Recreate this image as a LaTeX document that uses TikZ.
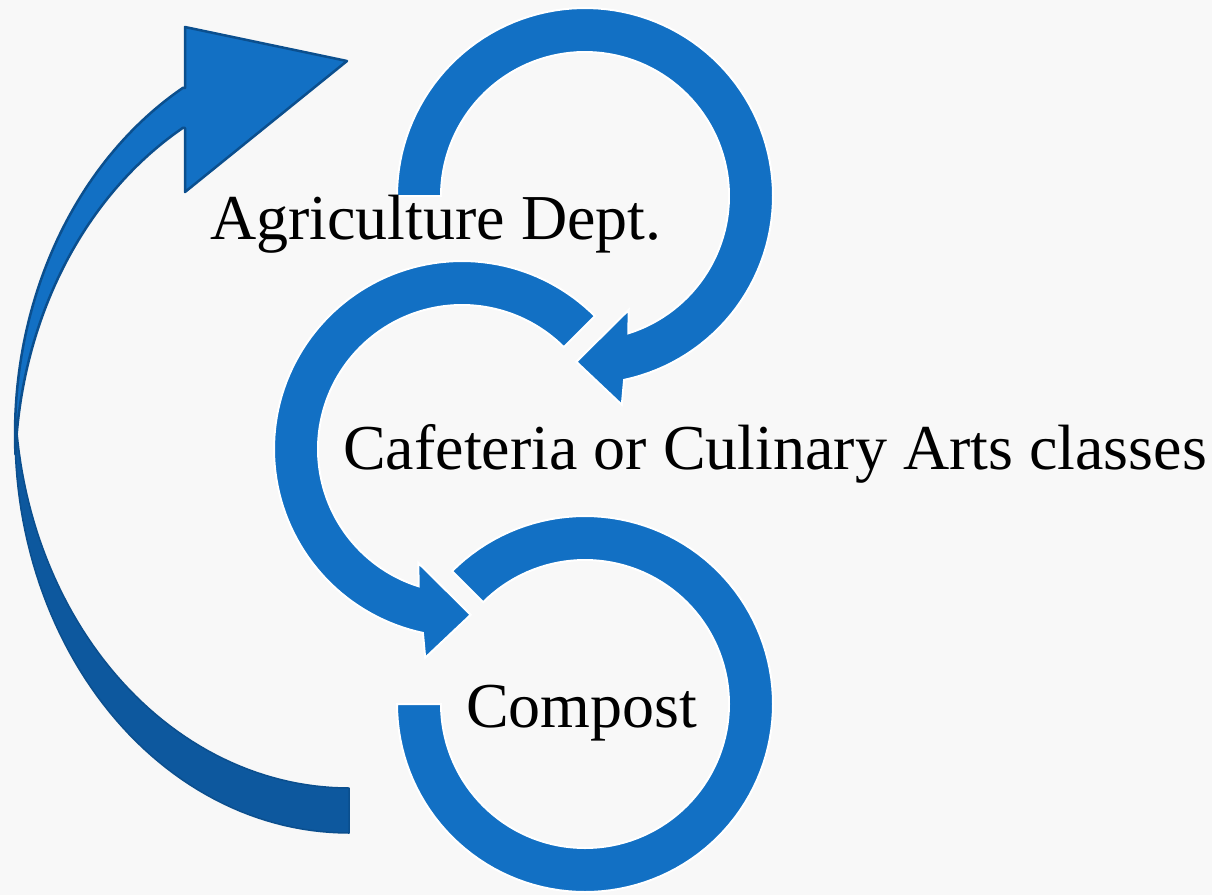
\documentclass[tikz,border=0pt]{standalone}
\usepackage{fontspec}
\setmainfont{Liberation Serif}
\definecolor{cblue}{HTML}{1270C4}
\definecolor{cdark}{HTML}{0D589E}
\definecolor{cline}{HTML}{0B4F8E}
\definecolor{bgc}{HTML}{F8F8F8}
\begin{document}
\begin{tikzpicture}[x=1pt,y=-1pt,
  ring/.style={fill=cblue, draw=white, line width=2pt, line join=miter},
  txt/.style={anchor=base west, font=\fontsize{64}{70}\selectfont, inner sep=0pt, text=black}]
\fill[bgc] (0,0) rectangle (1212,895);
\useasboundingbox (0,0) rectangle (1212,895);

% big left arrow: back part
\filldraw[fill=cdark, draw=cline, line width=1.5pt, line join=round]
 (349,788) -- (349,833)
 -- plot[domain=90:183.2,samples=60] ({349+334*cos(\x)},{434+399*sin(\x)})
 -- plot[domain=176.8:90,samples=60] ({349+334*cos(\x)},{389+399*sin(\x)}) -- cycle;
% big left arrow: front part with head
\filldraw[fill=cblue, draw=cline, line width=2.5pt, line join=round]
 plot[domain=177.1:240.2,samples=60] ({349+334*cos(\x)},{434+399*sin(\x)})
 -- (185,88) -- (185,27) -- (347,61) -- (185,192) -- (185,128)
 -- plot[domain=240.2:182.9,samples=60] ({349+334*cos(\x)},{474+399*sin(\x)}) -- cycle;

% middle ring
\begin{scope}[shift={(462,449)}]
\filldraw[ring] plot[domain=-45:-258,samples=100] (\x:188)
 -- (-260:212) -- (-273:166) -- (-249:122) -- (-252.5:144)
 -- plot[domain=-252.5:-45,samples=100] (\x:144) -- cycle;
\end{scope}
% bottom ring
\begin{scope}[shift={(585,704)}]
\filldraw[ring] plot[domain=-135:180,samples=120] (\x:188)
 -- plot[domain=180:-135,samples=120] (\x:144) -- cycle;
\end{scope}
% top ring
\begin{scope}[shift={(585,196)}]
\filldraw[ring] plot[domain=-180:78,samples=100] (\x:188)
 -- (80:212) -- (93:166) -- (69:122) -- (72.5:144)
 -- plot[domain=72.5:-180,samples=100] (\x:144) -- cycle;
\end{scope}

\node[txt] (agri) at (210,239) {Agriculture Dept.};
\node[txt] (cafe) at (343,469) {Cafeteria or Culinary Arts classes};
\node[txt] (comp) at (466,727) {Compost};
\end{tikzpicture}
\end{document}
